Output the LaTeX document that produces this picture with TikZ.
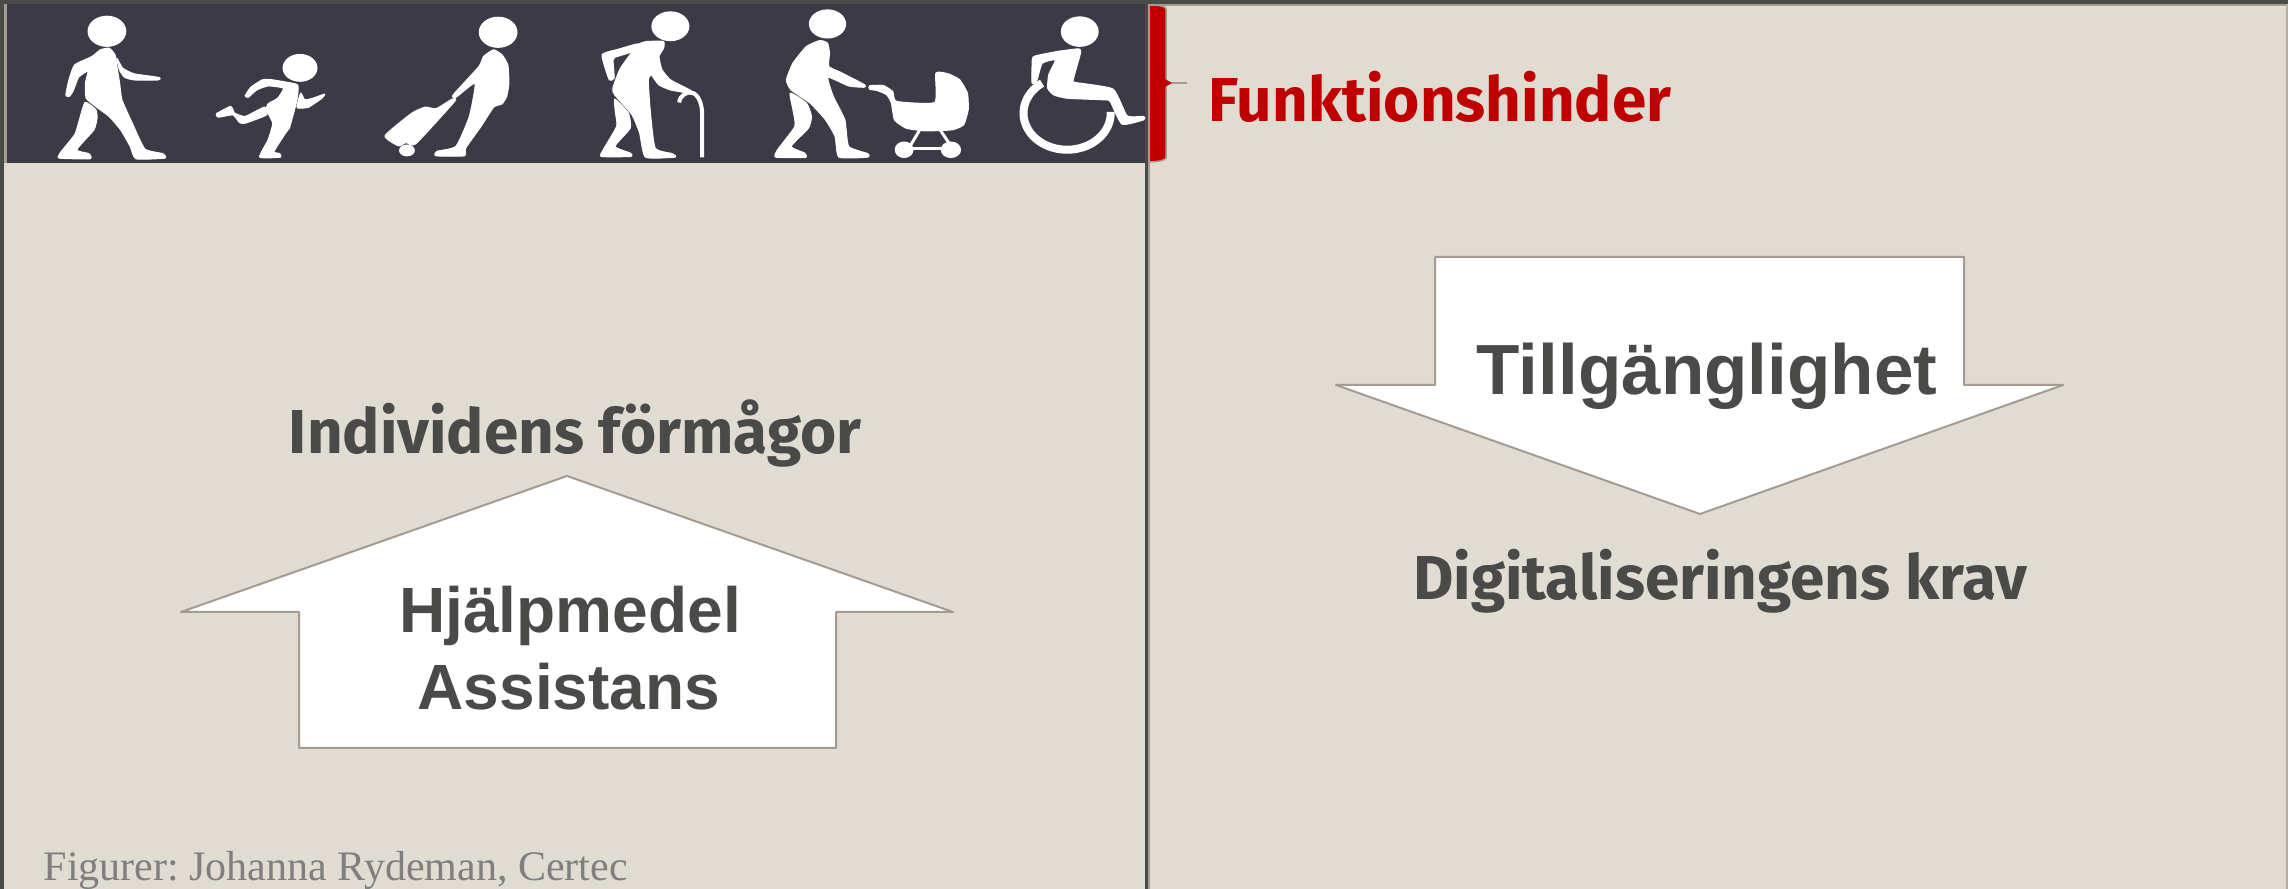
\documentclass[tikz,border=0pt]{standalone}
\usepackage{fontspec}
\setmainfont{Liberation Sans}
\newfontfamily\headfont{Fira Sans}
\newfontfamily\serfont{Liberation Serif}
\definecolor{bgc}{HTML}{E0DCD1}
\definecolor{hdr}{HTML}{3C3A47}
\definecolor{txt}{HTML}{4A4A48}
\definecolor{edge}{HTML}{A59B90}
\definecolor{redc}{HTML}{C00000}
\definecolor{graytxt}{HTML}{7F7F7F}
\newcommand{\px}[1]{\fontsize{\the\dimexpr #1pt*2845/10000\relax}{\the\dimexpr #1pt*2845/10000\relax}\selectfont}
\tikzset{
  x=0.01cm,y=-0.01cm,
  arrowshape/.style={draw=edge,fill=white,line width=0.02cm,line join=round},
  headtext/.style={anchor=base,inner sep=0pt,text=txt,font=\headfont\bfseries},
  arialtext/.style={anchor=base,inner sep=0pt,text=txt,font=\bfseries},
  icon/.style={fill=white,draw=white,line width=0.012cm,line join=round},
  iconline/.style={draw=white,line cap=round},
  zoomA/.style={x=0.003827cm,y=-0.003333cm},
  zoomB/.style={x=0.003827cm,y=-0.003333cm,xshift=5.8cm},
  zoomC/.style={x=0.003333cm,y=-0.003333cm,xshift=9.8cm},
}
\newcommand{\blob}[1]{plot[smooth cycle,tension=0.3] coordinates {#1}}
\begin{document}
\begin{tikzpicture}
\useasboundingbox (0,0) rectangle (2288,889);
\fill[bgc] (0,0) rectangle (2288,889);
% frame
\fill[txt] (0,0) rectangle (2288,4);
\fill[txt] (0,0) rectangle (4,889);
\fill[edge] (1150,4) rectangle (2288,6);
\fill[edge!70!bgc] (2286,4) rectangle (2288,889);
\fill[edge] (4,4) rectangle (7,163);
% header
\fill[hdr] (7,4) rectangle (1146,163);
\fill[txt] (1145,4) rectangle (1148,889);
\fill[edge] (1148,4) rectangle (1150,889);
% red bracket callout
\coordinate (calloutend) at (1187,83);
\coordinate (calloutstart) at (1166,83);
\draw[edge,line width=0.02cm] (calloutstart) -- (calloutend);
\filldraw[fill=redc,draw=edge,line width=0.015cm] (1149,5) .. controls (1158,5) and (1166,6) .. (1166,9) -- (1166,158) .. controls (1166,160) and (1158,162) .. (1149,162) -- cycle;
\fill[redc] (1165,79) -- (1172,83) -- (1165,87) -- cycle;
% icons: walker, runner, suitcase
\begin{scope}[zoomA]
\filldraw[icon] (279,94) ellipse [x radius=49,y radius=45];
\filldraw[icon] \blob{(262,150) (285,145) (300,165) (305,200) (312,250) (318,300) (345,370) (378,448) (425,462) (430,475) (355,477) (340,440) (315,390) (285,350) (250,320) (225,295) (223,250) (230,213) (205,232) (190,275) (180,290) (172,285) (180,240) (195,195) (240,170)};
\filldraw[icon] \blob{(305,175) (320,205) (350,222) (415,233) (413,240) (350,240) (325,232) (312,210)};
\filldraw[icon] \blob{(222,308) (250,330) (253,355) (245,390) (200,450) (232,462) (235,477) (155,475) (157,460) (195,405) (205,370)};
\filldraw[icon] (783,204) ellipse [x radius=44,y radius=40];
\filldraw[icon] \blob{(770,252) (778,260) (775,300) (755,385) (745,400) (715,455) (730,462) (732,472) (678,472) (700,420) (712,370) (695,330) (700,312) (725,295) (740,265) (700,258) (670,270) (648,292) (640,288) (655,262) (685,240) (710,240)};
\filldraw[icon] \blob{(690,322) (696,345) (640,370) (625,368) (608,345) (570,352) (565,342) (602,320) (612,340) (640,350)};
\filldraw[icon] \blob{(785,280) (795,300) (818,295) (847,283) (840,295) (805,322) (780,325) (775,320)};
\filldraw[icon] (1300,97) ellipse [x radius=49,y radius=45];
\filldraw[icon] \blob{(1288,150) (1310,165) (1325,195) (1328,250) (1322,290) (1310,312) (1288,322) (1255,380) (1215,445) (1212,468) (1138,468) (1140,455) (1190,440) (1225,350) (1240,250) (1190,292) (1183,285) (1250,200) (1262,170)};
\filldraw[icon] \blob{(1005,408) (1075,340) (1110,322) (1138,327) (1180,298) (1186,305) (1085,432) (1060,428) (1040,438)};
\filldraw[icon] (1062,452) ellipse [x radius=19,y radius=16];
\end{scope}
% icons: elder, pram
\begin{scope}[zoomB]
\filldraw[icon] (235,79) ellipse [x radius=48,y radius=43];
\filldraw[icon] \blob{(175,125) (217,125) (217,145) (205,170) (213,210) (235,240) (285,270) (300,282) (285,280) (235,270) (205,255) (185,225) (177,240) (182,330) (195,445) (240,462) (247,472) (170,472) (155,400) (135,345) (90,285) (85,265) (105,205) (150,135)};
\filldraw[icon] \blob{(150,132) (135,155) (90,172) (85,180) (88,235) (75,238) (57,165) (100,148)};
\filldraw[icon] \blob{(90,298) (125,340) (130,385) (90,440) (130,460) (132,470) (55,470) (60,450) (95,380) (92,340)};
\draw[iconline,line width=0.04cm,line cap=butt] (258,308) .. controls (260,285) and (280,273) .. (295,280) .. controls (312,290) and (318,320) .. (318,345) -- (318,473);
\filldraw[icon] (645,72) ellipse [x radius=47,y radius=42];
\filldraw[icon] \blob{(625,122) (645,130) (650,160) (648,200) (680,218) (742,255) (740,262) (700,258) (646,232) (660,290) (690,360) (700,440) (750,462) (750,472) (675,472) (665,410) (640,360) (600,310) (550,270) (538,240) (555,190) (590,140)};
\filldraw[icon] \blob{(548,280) (590,310) (603,350) (595,385) (550,440) (585,460) (587,473) (510,472) (515,450) (560,380) (555,330)};
\filldraw[icon] \blob{(755,258) (790,257) (815,275) (825,305) (925,308) (928,220) (960,222) (990,240) (1010,280) (1012,330) (1000,375) (970,390) (900,393) (850,385) (820,360) (812,310) (800,285) (775,272) (755,268)};
\draw[iconline,line width=0.03cm] (885,392) -- (860,440);
\draw[iconline,line width=0.03cm] (940,392) -- (965,435);
\draw[iconline,line width=0.025cm] (860,447) -- (950,447);
\filldraw[icon] (845,450) ellipse [x radius=23,y radius=23];
\filldraw[icon] (967,450) ellipse [x radius=25,y radius=23];
\end{scope}
% icon: wheelchair
\begin{scope}[zoomC]
\filldraw[icon] (298,95) ellipse [x radius=55,y radius=44];
\filldraw[icon] \blob{(160,170) (230,155) (295,147) (300,160) (278,240) (285,248) (398,268) (440,348) (490,350) (490,360) (425,373) (390,305) (375,300) (260,295) (220,285) (202,265) (205,225) (225,180) (185,190) (168,245) (155,250) (155,195)};
\draw[iconline,line width=0.08cm,line cap=butt] plot[domain=125:362,samples=60,smooth] ({260+131*cos(\x)},{340-110*sin(\x)});
\end{scope}
% arrows
\draw[arrowshape] (567,476) -- (953,612) -- (836,612) -- (836,748) -- (299,748) -- (299,612) -- (181,612) -- cycle;
\draw[arrowshape] (1435,257) -- (1964,257) -- (1964,385) -- (2063,385) -- (1700,514) -- (1336,385) -- (1435,385) -- cycle;
% texts
\node[anchor=base,inner sep=0pt,text=redc,font=\headfont\bfseries\px{62}] (funk) at (1440,122) {Funktionshinder};
\node[headtext,font=\headfont\bfseries\px{62}] (indiv) at (575,454) {Individens förmågor};
\node[headtext,font=\headfont\bfseries\px{62}] (digit) at (1720,600) {Digitaliseringens krav};
\node[arialtext,font=\bfseries\px{64}] (hjalp) at (570,633) {Hjälpmedel};
\node[arialtext,font=\bfseries\px{64}] (assist) at (569,710) {Assistans};
\node[arialtext,font=\bfseries\px{71}] (till) at (1707,395) {Tillgänglighet};
\node[anchor=base west,inner sep=0pt,text=graytxt,font=\serfont\px{42}] (fig) at (43,881) {\frenchspacing Figurer: Johanna Rydeman, Certec};
\end{tikzpicture}
\end{document}
